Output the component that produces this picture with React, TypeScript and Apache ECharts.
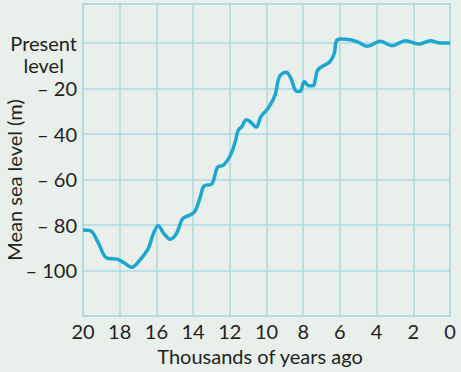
import React, { useEffect, useRef } from "react";
import * as echarts from "echarts";

// Thousands of years ago
const yearsAgo = [20, 19.6, 19.16, 18.7, 18.16, 17.8, 17.34, 16.9, 16.44, 16.16, 15.9, 15.6, 15.25, 14.9, 14.58, 14.16, 13.9, 13.62, 13.4, 12.98, 12.67, 12.35, 12.0, 11.7, 11.55, 11.34, 11.1, 10.9, 10.56, 10.3, 9.9, 9.53, 9.29, 8.93, 8.7, 8.34, 8.16, 7.94, 7.7, 7.47, 7.2, 6.8, 6.53, 6.3, 6.2, 5.97, 5.43, 4.98, 4.5, 3.8, 3.16, 2.43, 1.7, 1.07, 0.52, 0];
// Mean sea level (m)
const seaLevel = [-82.2, -82.5, -88, -94.6, -95, -96.4, -98.6, -95.4, -90.3, -83.7, -80.4, -83.7, -86.3, -83.7, -77.4, -75.6, -74.1, -68, -62.9, -62, -54.7, -53.8, -50, -43.4, -38.6, -36.8, -33.8, -34.6, -37, -32.4, -28.7, -22.9, -14.8, -13, -15.1, -21.4, -21.4, -17, -18.9, -18.9, -11.9, -9.7, -8.2, -4.5, 0.6, 1.6, 1.3, 0.1, -1.6, 0.6, -1.3, 0.9, -0.6, 0.9, -0.1, -0.1];

const xTicks = [20, 18, 16, 14, 12, 10, 8, 6, 4, 2, 0];
const yTicks = [0, -20, -40, -60, -80, -100];

const xTitle = "Thousands of years ago";
const yTitle = "Mean sea level (m)";

const FONT = "Lato, 'Open Sans', sans-serif";
const FS = 20;
const TEXT = "#231f20";
const GRID = "#acd8e3";

export default function App() {
  const ref = useRef<HTMLDivElement>(null);
  useEffect(() => {
    if (!ref.current) return;
    const chart = echarts.init(ref.current, null, { renderer: "svg" });
    chart.setOption({
      animation: false,
      backgroundColor: "#e9f0eb",
      grid: {
        left: 83,
        right: 11,
        top: 4,
        bottom: 56,
        show: true,
        borderColor: GRID,
        borderWidth: 1.5,
        backgroundColor: "transparent",
      },
      xAxis: {
        type: "value",
        min: 0,
        max: 20,
        interval: 2,
        inverse: true,
        axisLine: { show: false },
        axisTick: { show: false },
        splitLine: { show: true, lineStyle: { color: GRID, width: 1.5 } },
        axisLabel: {
          margin: 5,
          fontFamily: FONT,
          fontSize: FS,
          color: TEXT,
          formatter: (v: number) => (xTicks.includes(v) ? String(v) : ""),
        },
      },
      yAxis: {
        type: "value",
        min: -120,
        max: 17,
        interval: 20,
        axisLine: { show: false },
        axisTick: { show: false },
        splitLine: { show: true, lineStyle: { color: GRID, width: 1.5 } },
        axisLabel: {
          margin: 6,
          fontFamily: FONT,
          fontSize: FS,
          color: TEXT,
          rich: {
            e: { fontFamily: FONT, fontSize: FS, lineHeight: 22, color: TEXT },
            p: { fontFamily: FONT, fontSize: FS, lineHeight: 22, color: TEXT, align: "center" },
          },
          formatter: (v: number) => {
            if (!yTicks.includes(v)) return "";
            if (v === 0) return "{e| }\n{p|Present}\n{p|level}";
            return "\u2013 " + Math.abs(v);
          },
        },
      },
      graphic: [
        {
          type: "text",
          x: 260,
          y: 356,
          style: {
            text: xTitle,
            fontFamily: FONT,
            fontSize: FS,
            fill: TEXT,
            textAlign: "center",
            textVerticalAlign: "middle",
          },
        },
        {
          type: "text",
          x: 14,
          y: 180,
          rotation: Math.PI / 2,
          style: {
            text: yTitle,
            fontFamily: FONT,
            fontSize: FS,
            fill: TEXT,
            textAlign: "center",
            textVerticalAlign: "middle",
          },
        },
      ],
      series: [
        {
          type: "line",
          data: yearsAgo.map((t, i) => [t, seaLevel[i]]),
          smooth: 0.35,
          showSymbol: false,
          lineStyle: { color: "#1ea6d2", width: 3.5 },
        },
      ],
    });
    return () => chart.dispose();
  }, []);
  return <div ref={ref} style={{ width: 461, height: 372, position: "absolute", left: 0, top: 0 }} />;
}
